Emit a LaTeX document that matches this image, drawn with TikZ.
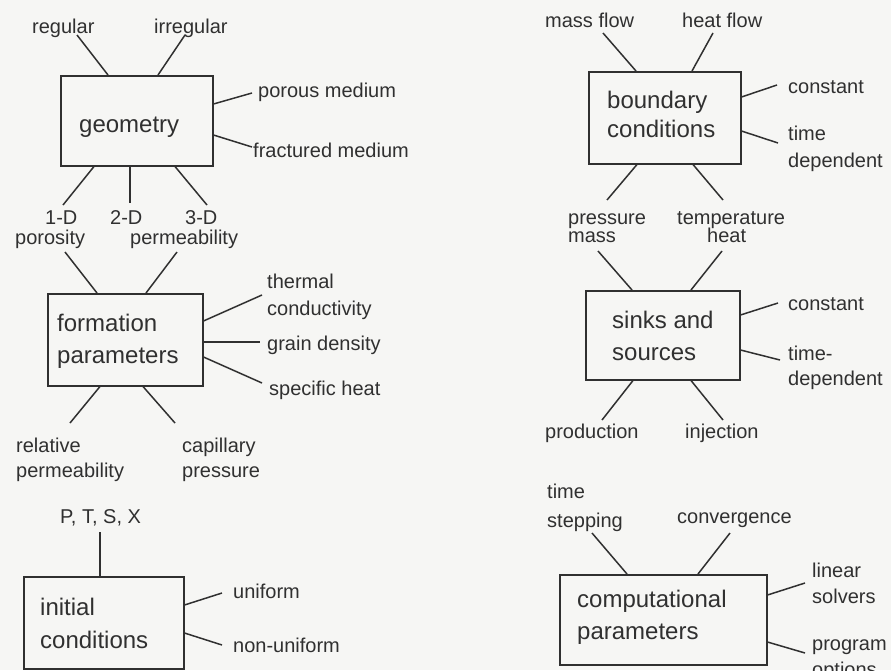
\documentclass[tikz,border=0pt]{standalone}
\usepackage{fontspec}
\setmainfont{Liberation Sans}
\usetikzlibrary{calc}
\definecolor{paper}{RGB}{246,246,244}
\definecolor{ink}{RGB}{48,48,48}
\tikzset{
  box/.style={draw=ink, line width=1.5pt, inner sep=0pt, anchor=north west},
  btxt/.style={font=\fontsize{24}{28}\selectfont, text=ink, inner sep=0pt, anchor=base west},
  lbl/.style={font=\fontsize{20}{24}\selectfont, text=ink, inner sep=0pt, anchor=base west},
  conn/.style={draw=ink, line width=1.5pt},
}
\begin{document}
\begin{tikzpicture}[x=1pt, y=-1pt]
\fill[paper] (0,0) rectangle (891,670);
\useasboundingbox (0,0) rectangle (891,670);

% ---------------- geometry ----------------
\node[box, minimum width=152pt, minimum height=90pt] (geo) at (60,75) {};
\node[btxt] (geo-t) at (79,132) {geometry};
\node[lbl] (l-reg) at (32,33) {regular};
\node[lbl] (l-irr) at (154,33) {irregular};
\node[lbl] (l-por) at (258,97) {porous medium};
\node[lbl] (l-fra) at (253,157) {fractured medium};
\node[lbl] (l-1d) at (45,224) {1-D};
\node[lbl] (l-2d) at (110,224) {2-D};
\node[lbl] (l-3d) at (185,224) {3-D};
\coordinate (e-reg) at (77,35);
\coordinate (e-irr) at (185,35);
\coordinate (e-por) at (252,93);
\coordinate (e-fra) at (252,147);
\coordinate (e-1d) at (63,205);
\coordinate (e-2d) at (130,203);
\coordinate (e-3d) at (207,205);
\draw[conn] ($(geo.north west)+(48,0)$) -- (e-reg);
\draw[conn] ($(geo.north west)+(98,0)$) -- (e-irr);
\draw[conn] ($(geo.north east)+(0,29)$) -- (e-por);
\draw[conn] ($(geo.north east)+(0,60)$) -- (e-fra);
\draw[conn] ($(geo.south west)+(34,0)$) -- (e-1d);
\draw[conn] ($(geo.south west)+(70,0)$) -- (e-2d);
\draw[conn] ($(geo.south west)+(115,0)$) -- (e-3d);

% ---------------- formation parameters ----------------
\node[box, minimum width=155pt, minimum height=92pt] (form) at (47,293) {};
\node[btxt] (form-t1) at (57,331) {formation};
\node[btxt] (form-t2) at (57,363) {parameters};
\node[lbl] (l-poro) at (15,244) {porosity};
\node[lbl] (l-perm) at (130,244) {permeability};
\node[lbl] (l-th1) at (267,288) {thermal};
\node[lbl] (l-th2) at (267,315) {conductivity};
\node[lbl] (l-gd) at (267,350) {grain density};
\node[lbl] (l-sh) at (269,395) {specific heat};
\node[lbl] (l-rp1) at (16,452) {relative};
\node[lbl] (l-rp2) at (16,477) {permeability};
\node[lbl] (l-cp1) at (182,452) {capillary};
\node[lbl] (l-cp2) at (182,477) {pressure};
\coordinate (e-poro) at (65,252);
\coordinate (e-perm) at (177,252);
\coordinate (e-th) at (262,295);
\coordinate (e-gd) at (260,342);
\coordinate (e-sh) at (262,383);
\coordinate (e-rp) at (70,423);
\coordinate (e-cp) at (175,423);
\draw[conn] ($(form.north west)+(50,0)$) -- (e-poro);
\draw[conn] ($(form.north west)+(99,0)$) -- (e-perm);
\draw[conn] ($(form.north east)+(0,28)$) -- (e-th);
\draw[conn] ($(form.north east)+(0,49)$) -- (e-gd);
\draw[conn] ($(form.north east)+(0,64)$) -- (e-sh);
\draw[conn] ($(form.south west)+(53,0)$) -- (e-rp);
\draw[conn] ($(form.south west)+(96,0)$) -- (e-cp);

% ---------------- initial conditions ----------------
\node[box, minimum width=160pt, minimum height=92pt] (init) at (23,576) {};
\node[btxt] (init-t1) at (40,615) {initial};
\node[btxt] (init-t2) at (40,648) {conditions};
\node[lbl] (l-ptsx) at (60,523) {P, T, S, X};
\node[lbl] (l-uni) at (233,598) {uniform};
\node[lbl] (l-nuni) at (233,652) {non-uniform};
\coordinate (e-ptsx) at (100,532);
\coordinate (e-uni) at (222,593);
\coordinate (e-nuni) at (222,645);
\draw[conn] ($(init.north west)+(77,0)$) -- (e-ptsx);
\draw[conn] ($(init.north east)+(0,29)$) -- (e-uni);
\draw[conn] ($(init.north east)+(0,57)$) -- (e-nuni);

% ---------------- boundary conditions ----------------
\node[box, minimum width=152pt, minimum height=92pt] (bc) at (588,71) {};
\node[btxt] (bc-t1) at (607,108) {boundary};
\node[btxt] (bc-t2) at (607,137) {conditions};
\node[lbl] (l-mf) at (545,27) {mass flow};
\node[lbl] (l-hf) at (682,27) {heat flow};
\node[lbl] (l-bcc) at (788,93) {constant};
\node[lbl] (l-btd1) at (788,140) {time};
\node[lbl] (l-btd2) at (788,167) {dependent};
\node[lbl] (l-pr) at (568,224) {pressure};
\node[lbl] (l-te) at (677,224) {temperature};
\coordinate (e-mf) at (603,33);
\coordinate (e-hf) at (713,33);
\coordinate (e-bcc) at (777,85);
\coordinate (e-btd) at (778,143);
\coordinate (e-pr) at (607,200);
\coordinate (e-te) at (723,200);
\draw[conn] ($(bc.north west)+(48,0)$) -- (e-mf);
\draw[conn] ($(bc.north west)+(104,0)$) -- (e-hf);
\draw[conn] ($(bc.north east)+(0,26)$) -- (e-bcc);
\draw[conn] ($(bc.north east)+(0,60)$) -- (e-btd);
\draw[conn] ($(bc.south west)+(49,0)$) -- (e-pr);
\draw[conn] ($(bc.south west)+(105,0)$) -- (e-te);

% ---------------- sinks and sources ----------------
\node[box, minimum width=154pt, minimum height=89pt] (ss) at (585,290) {};
\node[btxt] (ss-t1) at (612,328) {sinks and};
\node[btxt] (ss-t2) at (612,360) {sources};
\node[lbl] (l-ma) at (568,242) {mass};
\node[lbl] (l-he) at (707,242) {heat};
\node[lbl] (l-ssc) at (788,310) {constant};
\node[lbl] (l-std1) at (788,360) {time-};
\node[lbl] (l-std2) at (788,385) {dependent};
\node[lbl] (l-prod) at (545,438) {production};
\node[lbl] (l-inj) at (685,438) {injection};
\coordinate (e-ma) at (598,251);
\coordinate (e-he) at (722,251);
\coordinate (e-ssc) at (778,303);
\coordinate (e-std) at (780,360);
\coordinate (e-prod) at (602,420);
\coordinate (e-inj) at (723,420);
\draw[conn] ($(ss.north west)+(47,0)$) -- (e-ma);
\draw[conn] ($(ss.north west)+(106,0)$) -- (e-he);
\draw[conn] ($(ss.north east)+(0,25)$) -- (e-ssc);
\draw[conn] ($(ss.north east)+(0,60)$) -- (e-std);
\draw[conn] ($(ss.south west)+(48,0)$) -- (e-prod);
\draw[conn] ($(ss.south west)+(106,0)$) -- (e-inj);

% ---------------- computational parameters ----------------
\node[box, minimum width=207pt, minimum height=90pt] (cp) at (559,574) {};
\node[btxt] (cp-t1) at (577,607) {computational};
\node[btxt] (cp-t2) at (577,639) {parameters};
\node[lbl] (l-ts1) at (547,498) {time};
\node[lbl] (l-ts2) at (547,527) {stepping};
\node[lbl] (l-conv) at (677,523) {convergence};
\node[lbl] (l-ls1) at (812,577) {linear};
\node[lbl] (l-ls2) at (812,603) {solvers};
\node[lbl] (l-po1) at (812,650) {program};
\node[lbl] (l-po2) at (812,676) {options};
\coordinate (e-ts) at (592,533);
\coordinate (e-conv) at (730,533);
\coordinate (e-ls) at (805,583);
\coordinate (e-po) at (805,653);
\draw[conn] ($(cp.north west)+(68,0)$) -- (e-ts);
\draw[conn] ($(cp.north west)+(139,0)$) -- (e-conv);
\draw[conn] ($(cp.north east)+(0,21)$) -- (e-ls);
\draw[conn] ($(cp.north east)+(0,68)$) -- (e-po);
\end{tikzpicture}
\end{document}
